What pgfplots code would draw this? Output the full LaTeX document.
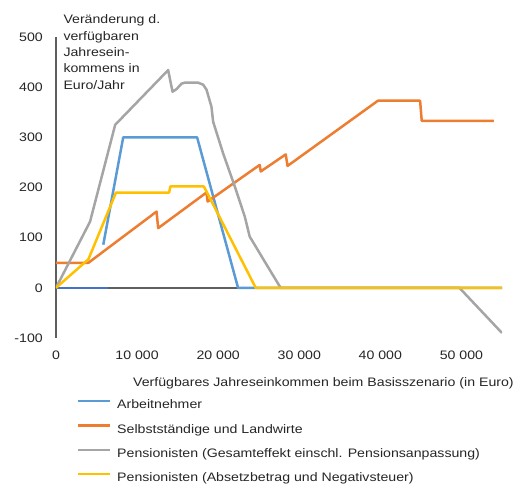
\documentclass[border=0pt]{standalone}
\usepackage{fontspec}
\setmainfont{Liberation Sans}
\usepackage{graphicx}
\usepackage{pgfplots}
\pgfplotsset{compat=1.18}
\definecolor{cblue}{HTML}{5B9BD5}
\definecolor{cdblue}{HTML}{4472C4}
\definecolor{corange}{HTML}{ED7D31}
\definecolor{cgray}{HTML}{A5A5A5}
\definecolor{cyellow}{HTML}{FFC000}
\definecolor{caxis}{HTML}{5F5F5F}
\definecolor{ctext}{HTML}{262626}
\newcommand{\sx}[1]{\scalebox{1.15}[1]{#1}}
\begin{document}
\fontsize{12.3}{14}\selectfont
\begin{tikzpicture}
\begin{axis}[name=ax, scale only axis, width=446pt, height=301pt,
  xmin=0, xmax=55000, ymin=-100, ymax=500,
  scaled x ticks=false, scaled y ticks=false,
  axis lines=left, axis line style={-},
  x axis line style={draw=none},
  y axis line style={draw=caxis, line width=1.6pt},
  xtick={0,10000,20000,30000,40000,50000},
  xticklabels={\sx{0},\sx{10 000},\sx{20 000},\sx{30 000},\sx{40 000},\sx{50 000}},
  ytick={-100,0,100,200,300,400,500},
  yticklabels={\sx{-100},\sx{0},\sx{100},\sx{200},\sx{300},\sx{400},\sx{500}},
  major tick length=0pt, tick style={draw=none},
  /pgf/number format/assume math mode=true,
  xticklabel style={inner sep=0pt, anchor=north, yshift=-13pt, text=ctext},
  yticklabel style={inner sep=0pt, anchor=east, xshift=-13pt, text=ctext},
  every axis plot/.append style={line width=2.5pt, line join=round},
]
\addplot[caxis, line width=1.6pt, forget plot] coordinates {(0,0) (55000,0)};
\addplot[cdblue, forget plot] coordinates {(0,0) (6440,0)};
\addplot[cblue] coordinates {(5830,86) (8290,300) (17400,300) (22450,0) (55000,0)};
\addplot[corange] coordinates {(0,50) (4000,50) (12400,152) (12600,119) (18560,190) (18700,172) (25120,245) (25250,232) (28330,266) (28550,243) (39700,373) (44900,373) (45100,333) (54000,333)};
\addplot[cgray] coordinates {(0,0) (4200,132) (7300,325) (13830,434) (14370,391) (14860,396) (15480,407) (15890,409) (17520,409) (18140,405) (18560,395) (19170,361) (19380,331) (20610,268) (22050,202) (23280,142) (23890,102) (24380,89) (25120,69) (26350,36) (27700,0) (49750,0) (55000,-90)};
\addplot[cyellow] coordinates {(0,0) (4000,57) (7400,190) (13950,190) (14100,202) (18230,202) (18560,192) (24630,0) (55000,0)};
\end{axis}
% y-axis title block
\begin{scope}[every node/.style={inner sep=0pt, anchor=base west, text=ctext}]
\node at ([shift={(7.3pt,314pt)}]ax.south west) {\sx{Veränderung d.}};
\node at ([shift={(7.3pt,297.7pt)}]ax.south west) {\sx{verfügbaren}};
\node at ([shift={(7.3pt,281.5pt)}]ax.south west) {\sx{Jahresein-}};
\node at ([shift={(7.3pt,265pt)}]ax.south west) {\sx{kommens in}};
\node at ([shift={(7.3pt,248.7pt)}]ax.south west) {\sx{Euro/Jahr}};
% x label
\node at ([shift={(77pt,-48.5pt)}]ax.south west) {\sx{Verfügbares Jahreseinkommen beim Basisszenario (in Euro)}};
% legend
\draw[cblue, line width=2.5pt] ([shift={(22pt,-63pt)}]ax.south west) -- ++(32pt,0);
\node at ([shift={(61pt,-70.7pt)}]ax.south west) {\sx{Arbeitnehmer}};
\draw[corange, line width=2.5pt] ([shift={(22pt,-87.4pt)}]ax.south west) -- ++(32pt,0);
\node at ([shift={(61pt,-95.1pt)}]ax.south west) {\sx{Selbstständige und Landwirte}};
\draw[cgray, line width=2.5pt] ([shift={(22pt,-111.8pt)}]ax.south west) -- ++(32pt,0);
\node at ([shift={(61pt,-119.5pt)}]ax.south west) {\sx{Pensionisten (Gesamteffekt einschl. Pensionsanpassung)}};
\draw[cyellow, line width=2.5pt] ([shift={(22pt,-136.2pt)}]ax.south west) -- ++(32pt,0);
\node at ([shift={(61pt,-143.9pt)}]ax.south west) {\sx{Pensionisten (Absetzbetrag und Negativsteuer)}};
\end{scope}
\pgfresetboundingbox
\path[use as bounding box] ([shift={(-56pt,-146pt)}]ax.south west) rectangle ([shift={(470pt,338pt)}]ax.south west);
\end{tikzpicture}
\end{document}
